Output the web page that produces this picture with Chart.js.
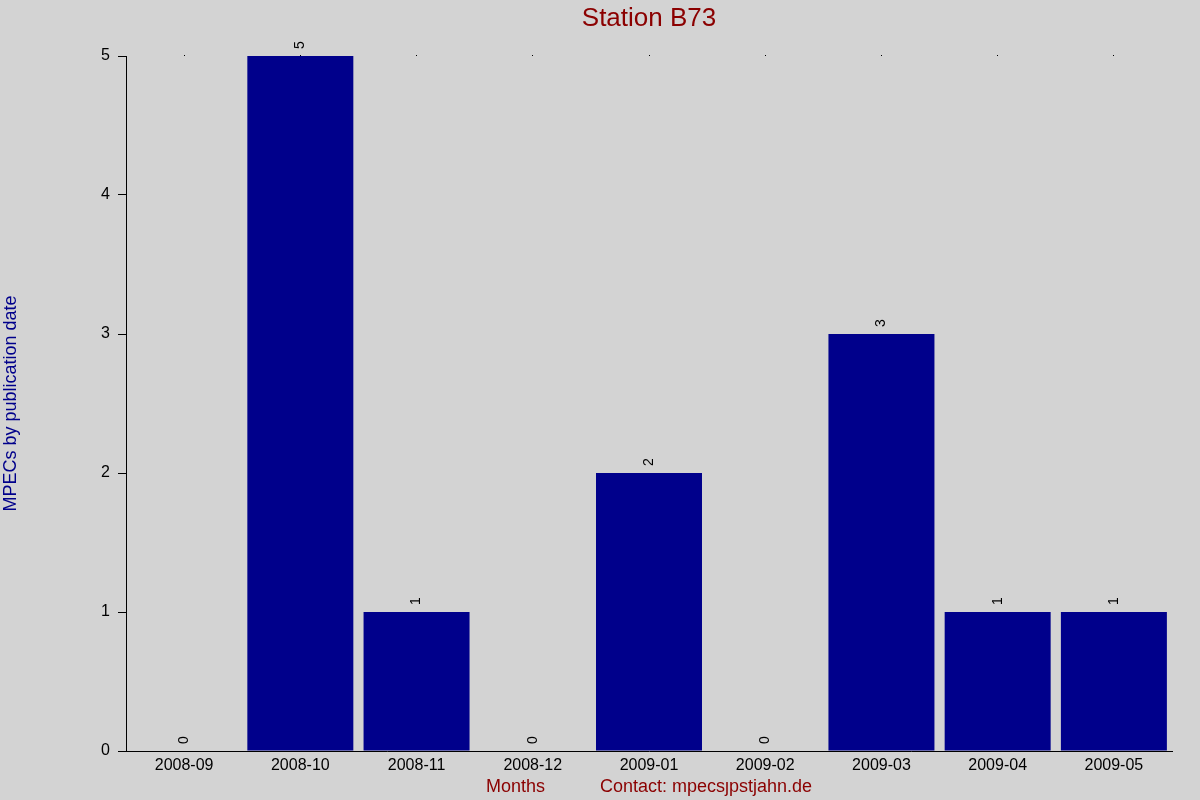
<!DOCTYPE html>
<html>
<head>
<meta charset="utf-8">
<script src="https://cdn.jsdelivr.net/npm/chart.js@4/dist/chart.umd.min.js"></script>
<style>
  html, body { margin: 0; padding: 0; background: #d3d3d3; }
  #wrap { width: 1200px; height: 800px; }
</style>
</head>
<body>
<div id="wrap"><canvas id="chart" width="1200" height="800"></canvas></div>
<script>
const months = ['2008-09', '2008-10', '2008-11', '2008-12', '2009-01', '2009-02', '2009-03', '2009-04', '2009-05'];
const mpecs = [0, 5, 1, 0, 2, 0, 3, 1, 1];
const yTicks = [0, 1, 2, 3, 4, 5];
const chartTitle = 'Station B73';

const FONT = 'Liberation Sans, Arial, sans-serif';

// bg fill so the photo is grey everywhere
const bgPlugin = {
  id: 'bg',
  beforeDraw(chart) {
    const c = chart.ctx;
    c.save();
    c.fillStyle = '#d3d3d3';
    c.fillRect(0, 0, chart.width, chart.height);
    c.restore();
  }
};

// title centred over the plot area, not the whole canvas
const plotTitle = {
  id: 'plotTitle',
  afterDraw(chart) {
    const c = chart.ctx;
    const a = chart.chartArea;
    c.save();
    c.fillStyle = '#8b0000';
    c.font = '26px ' + FONT;
    c.textAlign = 'center';
    c.textBaseline = 'middle';
    c.fillText(chartTitle, (a.left + a.right) / 2, 19);
    c.restore();
  }
};

// rotated value labels above each bar
const valueLabels = {
  id: 'valueLabels',
  afterDatasetsDraw(chart) {
    const c = chart.ctx;
    const meta = chart.getDatasetMeta(0);
    c.save();
    c.fillStyle = '#000';
    c.font = '14px ' + FONT;
    c.textAlign = 'left';
    c.textBaseline = 'middle';
    meta.data.forEach((bar, i) => {
      c.save();
      c.translate(bar.x, bar.y - 7);
      c.rotate(-Math.PI / 2);
      c.fillText(String(mpecs[i]), 0, 0);
      c.restore();
    });
    c.restore();
  }
};

new Chart(document.getElementById('chart'), {
  type: 'bar',
  data: {
    labels: months,
    datasets: [{
      data: mpecs,
      backgroundColor: '#00008b',
      borderWidth: 0,
      categoryPercentage: 1,
      barPercentage: 0.912
    }]
  },
  options: {
    responsive: false,
    animation: false,
    layout: { padding: { left: 0, right: 28, top: 56, bottom: 0 } },
    plugins: {
      legend: { display: false },
      tooltip: { enabled: false },
      title: { display: false }
    },
    scales: {
      x: {
        position: 'bottom',
        grid: { display: false, drawTicks: false },
        border: { display: true, color: '#000', width: 1 },
        ticks: { color: '#000', font: { family: FONT, size: 16 }, padding: 5, maxRotation: 0, autoSkip: false },
        title: {
          display: true,
          text: 'Months\u00a0\u00a0\u00a0\u00a0\u00a0\u00a0\u00a0\u00a0\u00a0\u00a0\u00a0Contact: mpecs\u0237pstjahn.de',
          color: '#8b0000',
          font: { family: FONT, size: 18 },
          padding: { top: 0, bottom: 2 }
        },
        afterFit(s) { s.height = 49; }
      },
      xTop: {
        position: 'top',
        grid: { display: true, offset: false, drawOnChartArea: false, drawTicks: true, tickLength: 1, color: '#000' },
        border: { display: false },
        ticks: { display: false },
        afterFit(s) { s.height = 0; }
      },
      y: {
        min: 0,
        max: 5,
        afterBuildTicks(s) { s.ticks = yTicks.map(v => ({ value: v })); },
        grid: { display: true, drawOnChartArea: false, drawTicks: true, tickLength: 8, color: '#000' },
        border: { display: true, color: '#000', width: 1 },
        ticks: { color: '#000', font: { family: FONT, size: 16 }, padding: 8 },
        title: {
          display: true,
          text: 'MPECs by publication date',
          color: '#00008b',
          font: { family: FONT, size: 18 },
          padding: { top: 0, bottom: 0 }
        },
        afterFit(s) { s.width = 126; }
      }
    }
  },
  plugins: [bgPlugin, valueLabels, plotTitle]
});
</script>
</body>
</html>
